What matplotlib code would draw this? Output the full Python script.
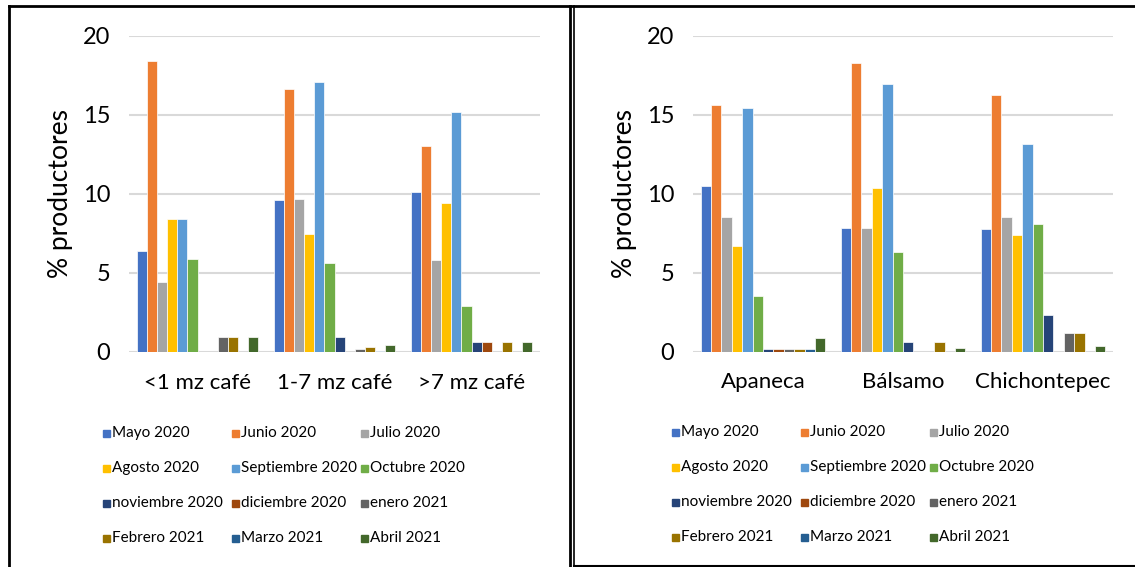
import matplotlib
matplotlib.use('Agg')
import matplotlib.pyplot as plt
from matplotlib.lines import Line2D
from matplotlib.patches import Rectangle
import numpy as np

plt.rcParams['font.family'] = ['Lato', 'DejaVu Sans']

W, H = 1135, 567

months = ['Mayo 2020', 'Junio 2020', 'Julio 2020', 'Agosto 2020',
          'Septiembre 2020', 'Octubre 2020', 'noviembre 2020', 'diciembre 2020',
          'enero 2021', 'Febrero 2021', 'Marzo 2021', 'Abril 2021']
colors = ['#4472C4', '#ED7D31', '#A5A5A5', '#FFC000', '#5B9BD5', '#70AD47',
          '#264478', '#9E480E', '#636363', '#997300', '#255E91', '#43682B']

# farm size groups (rows = month, cols = group)
size_groups = ['<1 mz café', '1-7 mz café', '>7 mz café']
size_vals = [
    [6.4, 9.6, 10.1],
    [18.4, 16.6, 13.0],
    [4.4, 9.7, 5.8],
    [8.4, 7.45, 9.4],
    [8.4, 17.1, 15.2],
    [5.9, 5.6, 2.9],
    [0.0, 0.95, 0.65],
    [0.0, 0.0, 0.65],
    [0.95, 0.2, 0.0],
    [0.95, 0.3, 0.65],
    [0.0, 0.07, 0.0],
    [0.95, 0.42, 0.65],
]

# municipalities
town_groups = ['Apaneca', 'Bálsamo', 'Chichontepec']
town_vals = [
    [10.45, 7.85, 7.75],
    [15.6, 18.25, 16.25],
    [8.5, 7.85, 8.5],
    [6.7, 10.35, 7.35],
    [15.4, 16.95, 13.15],
    [3.5, 6.3, 8.1],
    [0.15, 0.6, 2.3],
    [0.15, 0.0, 0.0],
    [0.15, 0.0, 1.15],
    [0.15, 0.6, 1.15],
    [0.15, 0.0, 0.0],
    [0.85, 0.25, 0.35],
]


def fx(px):
    return px / W


def fy(py):
    return 1 - py / H


def draw_panel(fig, rect, groups, vals):
    ax = fig.add_axes(rect)
    x = np.arange(len(groups))
    n = len(vals)
    bw = 0.89 / n
    for i, (row, c) in enumerate(zip(vals, colors)):
        ax.bar(x - 0.445 + bw * (i + 0.5), row, bw, color=c,
               edgecolor='white', linewidth=0.5, zorder=3)
    ax.set_xlim(-0.5, len(groups) - 0.5)
    ax.set_ylim(0, 20)
    ax.set_yticks([0, 5, 10, 15, 20])
    ax.yaxis.grid(True, color='#D9D9D9', linewidth=1.5, zorder=0)
    ax.set_xticks(x)
    ax.set_xticklabels(groups)
    ax.tick_params(axis='both', length=0, colors='black')
    ax.tick_params(axis='y', pad=13.5, labelsize=17)
    ax.tick_params(axis='x', pad=15, labelsize=16)
    for s in ax.spines.values():
        s.set_visible(False)
    ax.set_ylabel('% productores', fontsize=19, labelpad=7)
    return ax


def draw_legend(fig, x0, y0):
    # three columns, filled row by row
    for i, (lab, c) in enumerate(zip(months, colors)):
        r, k = divmod(i, 3)
        px = x0 + k * 129
        py = y0 + r * 35
        fig.add_artist(Rectangle((fx(px - 3.5), fy(py + 3.5)), 7 / W, 7 / H,
                                 transform=fig.transFigure, color=c))
        fig.text(fx(px + 6), fy(py), lab, fontsize=11, va='center', ha='left')


fig = plt.figure(figsize=(W / 100, H / 100), dpi=100)

draw_panel(fig, [fx(129), fy(352), fx(411), fy(35.7) - fy(352)], size_groups, size_vals)
draw_panel(fig, [fx(693), fy(351.5), fx(420), fy(35.7) - fy(351.5)], town_groups, town_vals)

draw_legend(fig, 106, 433)
draw_legend(fig, 675, 432)

# panel frames
frame = dict(transform=fig.transFigure, color='black')
fig.add_artist(Line2D([fx(9), 1], [fy(6), fy(6)], linewidth=2, **frame))
fig.add_artist(Line2D([fx(9), fx(9)], [fy(6), 0], linewidth=2, **frame))
fig.add_artist(Line2D([fx(570), fx(570)], [fy(6), 0], linewidth=2, **frame))
fig.add_artist(Line2D([fx(573.5), fx(573.5)], [fy(6), fy(566)], linewidth=1.2, **frame))
fig.add_artist(Line2D([fx(573.5), 1], [fy(566), fy(566)], linewidth=1.5, **frame))

fig.savefig('out.png', dpi=100)
